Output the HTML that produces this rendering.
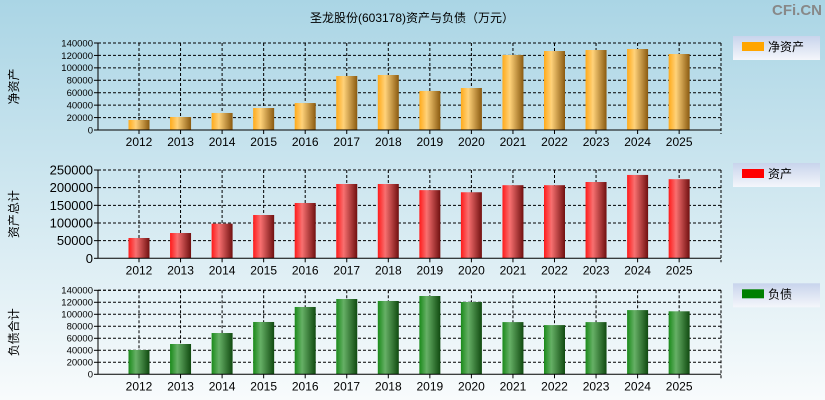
<!DOCTYPE html>
<html><head><meta charset="utf-8"><style>
body{margin:0;width:825px;height:400px;overflow:hidden;font-family:"Liberation Sans","Noto Sans CJK SC",sans-serif}
svg{display:block}
</style></head><body>
<svg id="c" width="825" height="400" xmlns="http://www.w3.org/2000/svg">
<defs>
<linearGradient id="bg" x1="0" y1="0" x2="0" y2="1"><stop offset="0" stop-color="#aad5e5"/><stop offset="1" stop-color="#f8fbfc"/></linearGradient>
<linearGradient id="go" x1="0" x2="1"><stop offset="0" stop-color="#ffaa1a"/><stop offset="0.35" stop-color="#ffd27a"/><stop offset="1" stop-color="#8a5a10"/></linearGradient>
<linearGradient id="gr" x1="0" x2="1"><stop offset="0" stop-color="#ff1a1a"/><stop offset="0.35" stop-color="#f87070"/><stop offset="1" stop-color="#701010"/></linearGradient>
<linearGradient id="gg" x1="0" x2="1"><stop offset="0" stop-color="#1a8a1a"/><stop offset="0.35" stop-color="#66b066"/><stop offset="1" stop-color="#104a10"/></linearGradient>
<linearGradient id="lg" x1="0" y1="0" x2="0" y2="1"><stop offset="0" stop-color="#c8d4ec"/><stop offset="1" stop-color="#f4f6fb"/></linearGradient>
</defs>
<rect width="825" height="400" fill="url(#bg)"/>
<text x="412" y="22" text-anchor="middle" font-size="12" fill="#000">圣龙股份(603178)资产与负债（万元）</text>
<text x="822" y="15" text-anchor="end" font-size="15" font-weight="bold" fill="#888">CFi.CN</text>
</svg>
<script>
const years=['2012','2013','2014','2015','2016','2017','2018','2019','2020','2021','2022','2023','2024','2025'];
const netAssets=[16100,20900,27400,35400,43400,86900,88500,62800,67600,120700,127100,128700,130300,122300];
const totalAssets=[57500,71600,98000,122600,156600,210400,210400,193000,187000,207000,207000,216000,236000,224000];
const liabilities=[40500,50500,68800,87200,112200,125500,122200,130500,120500,87000,82000,87000,107000,105000];
const ticksSmall=[0,20000,40000,60000,80000,100000,120000,140000];
const ticksBig=[0,50000,100000,150000,200000,250000];
const svg=document.getElementById('c');
const NS='http://www.w3.org/2000/svg';
function mk(t,a,p){const e=document.createElementNS(NS,t);for(const k in a)e.setAttribute(k,a[k]);(p||svg).appendChild(e);return e;}
const L=98,R=721;
const xC=i=>139+i*41.55;
function panel(key,top,bot,max,ticks,vals,fill,ylabel,legend,legColor,tfs){
  const g=mk('g',{});
  
  
  const y=v=>bot-(v/max)*(bot-top);
  ticks.forEach(t=>{
    const yy=y(t);
    if(t>0){const gl=mk('line',{x1:L,x2:R,y1:yy,y2:yy,stroke:'#000','stroke-dasharray':'3,2','stroke-width':1},g);
    }
    mk('line',{x1:L-4,x2:L,y1:yy,y2:yy,stroke:'#000'},g);
    const tx=mk('text',{x:L-5,y:yy+tfs*0.35,'text-anchor':'end','font-size':tfs,fill:'#000'},g);
    tx.textContent=t;
    
  });
  years.forEach((yr,i)=>{
    const x=xC(i);
    const gl=mk('line',{x1:x,x2:x,y1:top,y2:bot,stroke:'#000','stroke-dasharray':'3,2'},g);
    
    mk('line',{x1:x,x2:x,y1:bot,y2:bot+4,stroke:'#000'},g);
    const tx=mk('text',{x:x,y:bot+16,'text-anchor':'middle','font-size':12,fill:'#000'},g);
    tx.textContent=yr;
    
  });
  vals.forEach((v,i)=>{
    const b=mk('rect',{x:xC(i)-10.5,y:y(v),width:21,height:bot-y(v),fill:fill},g);
    
    
  });
  mk('line',{x1:L,x2:L,y1:top,y2:bot,stroke:'#000'},g);
  mk('line',{x1:L,x2:R,y1:bot,y2:bot,stroke:'#000'},g);
  mk('line',{x1:L,x2:R,y1:top,y2:top,stroke:'#000','stroke-dasharray':'3,2'},g);
  mk('line',{x1:R,x2:R,y1:top,y2:bot+4,stroke:'#000','stroke-dasharray':'3,2'},g);
  const cy=(top+bot)/2;
  const yl=mk('text',{x:0,y:0,'text-anchor':'middle','font-size':12,fill:'#000',transform:`translate(18,${cy}) rotate(-90)`},g);
  yl.textContent=ylabel;
  
  const lg=mk('g',{},g);
  
  mk('rect',{x:733,y:top-7,width:87,height:24,fill:'url(#lg)'},lg);
  mk('rect',{x:742,y:top-1,width:22,height:9,fill:legColor},lg);
  const lt=mk('text',{x:768,y:top+8,'font-size':12,fill:'#000'},lg);
  lt.textContent=legend;
}
panel('net-assets',43,130,140000,ticksSmall,netAssets,'url(#go)','净资产','净资产','#ffa500',9.5);
panel('total-assets',170,258.3,250000,ticksBig,totalAssets,'url(#gr)','资产总计','资产','#ff0000',13);
panel('liabilities',290.3,374.3,140000,ticksSmall,liabilities,'url(#gg)','负债合计','负债','#008000',9.5);
</script>
</body></html>
